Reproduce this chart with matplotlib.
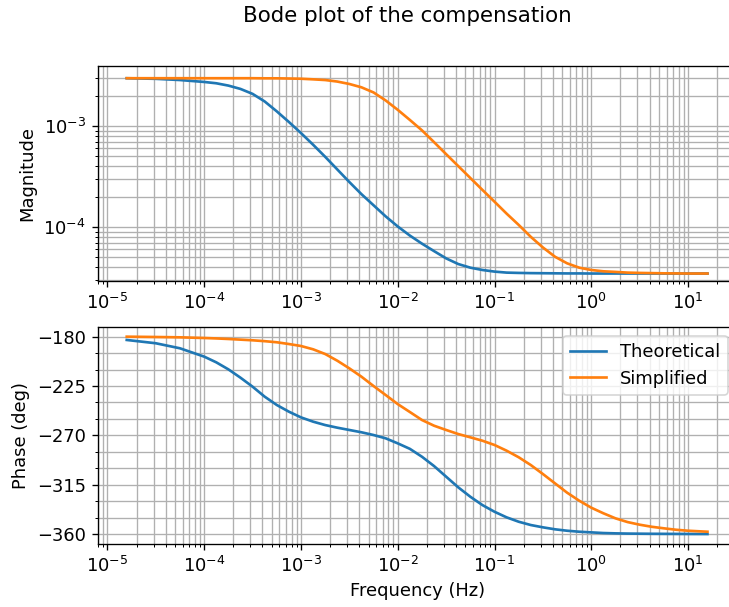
import matplotlib
matplotlib.use("Agg")
import matplotlib.pyplot as plt
import numpy as np
from matplotlib.ticker import MultipleLocator

# frequency points (log10 of Hz) where the curves were read
freq_log10 = [-4.8, -4.5, -4.25, -4.0, -3.875, -3.75, -3.625, -3.5, -3.375, -3.25,
              -3.125, -3.0, -2.875, -2.75, -2.625, -2.5, -2.375, -2.25, -2.125, -2.0,
              -1.875, -1.75, -1.625, -1.5, -1.375, -1.25, -1.125, -1.0, -0.875, -0.75,
              -0.625, -0.5, -0.375, -0.25, -0.125, 0.0, 0.125, 0.25, 0.375, 0.5,
              0.625, 0.75, 0.875, 1.0, 1.2]

# magnitudes (log10)
mag_theoretical_log10 = [-2.527, -2.533, -2.545, -2.564, -2.577, -2.600, -2.633, -2.682, -2.757, -2.855,
                         -2.960, -3.070, -3.185, -3.305, -3.430, -3.555, -3.675, -3.785, -3.895, -3.995,
                         -4.085, -4.165, -4.239, -4.311, -4.367, -4.403, -4.426, -4.442, -4.452, -4.455,
                         -4.457, -4.458, -4.459, -4.460, -4.460, -4.461, -4.461, -4.461, -4.461, -4.461,
                         -4.461, -4.461, -4.461, -4.461, -4.461]
mag_simplified_log10 = [-2.527, -2.527, -2.527, -2.527, -2.527, -2.527, -2.527, -2.527, -2.528, -2.528,
                        -2.530, -2.532, -2.538, -2.545, -2.560, -2.584, -2.617, -2.668, -2.747, -2.840,
                        -2.940, -3.043, -3.160, -3.279, -3.397, -3.515, -3.633, -3.750, -3.868, -3.980,
                        -4.098, -4.203, -4.295, -4.360, -4.403, -4.426, -4.439, -4.445, -4.452, -4.455,
                        -4.457, -4.459, -4.460, -4.461, -4.461]

# phase (deg)
phase_theoretical = [-183.0, -186.0, -190.6, -198.2, -203.4, -209.8, -217.4, -225.6, -234.7, -242.3,
                     -248.4, -253.6, -257.5, -260.6, -263.0, -265.1, -267.2, -269.7, -272.7, -277.3,
                     -282.3, -289.5, -298.0, -307.7, -317.4, -326.0, -333.6, -339.7, -344.8, -348.8,
                     -351.8, -353.9, -355.7, -357.0, -357.9, -358.5, -359.1, -359.4, -359.6, -359.7,
                     -359.8, -359.85, -359.9, -359.95, -360.0]
phase_simplified = [-180.0, -180.3, -180.6, -181.2, -181.6, -182.1, -182.7, -183.3, -184.1, -185.1,
                    -186.7, -188.5, -191.5, -195.8, -201.9, -208.9, -216.5, -225.0, -233.2, -241.5,
                    -248.7, -256.0, -261.2, -265.1, -268.8, -271.8, -274.9, -278.8, -284.0, -290.0,
                    -297.1, -305.3, -313.8, -322.3, -329.6, -336.0, -341.1, -345.7, -349.1, -351.5,
                    -353.4, -354.8, -356.1, -357.0, -357.9]

labels = ["Theoretical", "Simplified"]
title = "Bode plot of the compensation"

freq_hz = np.power(10.0, freq_log10)
mag_t = np.power(10.0, mag_theoretical_log10)
mag_s = np.power(10.0, mag_simplified_log10)

plt.rcParams["font.size"] = 10.7

W, H = 729, 607
dpi = 120
fig = plt.figure(figsize=(W / dpi, H / dpi), dpi=dpi)

ax_mag = fig.add_axes([97.7 / W, 1 - 281 / H, (736.5 - 97.7) / W, (281 - 66) / H])
ax_ph = fig.add_axes([97.7 / W, 1 - 544 / H, (736.5 - 97.7) / W, (544 - 326.7) / H])

ax_mag.loglog(freq_hz, mag_t, color="#1f77b4", lw=1.6, label=labels[0])
ax_mag.loglog(freq_hz, mag_s, color="#ff7f0e", lw=1.6, label=labels[1])
ax_mag.set_xlim(10 ** -5.1, 10 ** 1.5)
ax_mag.set_ylim(10 ** -4.535, 10 ** -2.406)
ax_mag.set_ylabel("Magnitude")
ax_mag.grid(True, which="both")

ax_ph.semilogx(freq_hz, phase_theoretical, color="#1f77b4", lw=1.6, label=labels[0])
ax_ph.semilogx(freq_hz, phase_simplified, color="#ff7f0e", lw=1.6, label=labels[1])
ax_ph.set_xlim(10 ** -5.1, 10 ** 1.5)
ax_ph.set_ylim(-369.1, -170.9)
ax_ph.yaxis.set_major_locator(MultipleLocator(45))
ax_ph.yaxis.set_minor_locator(MultipleLocator(15))
ax_ph.set_ylabel("Phase (deg)")
ax_ph.set_xlabel("Frequency (Hz)")
ax_ph.grid(True, which="both")
ax_ph.legend(loc="upper right")

fig.suptitle(title, x=407.5 / W, y=1 - 16 / H, va="center", fontsize=12.8)

fig.savefig("out.png", dpi=dpi)
